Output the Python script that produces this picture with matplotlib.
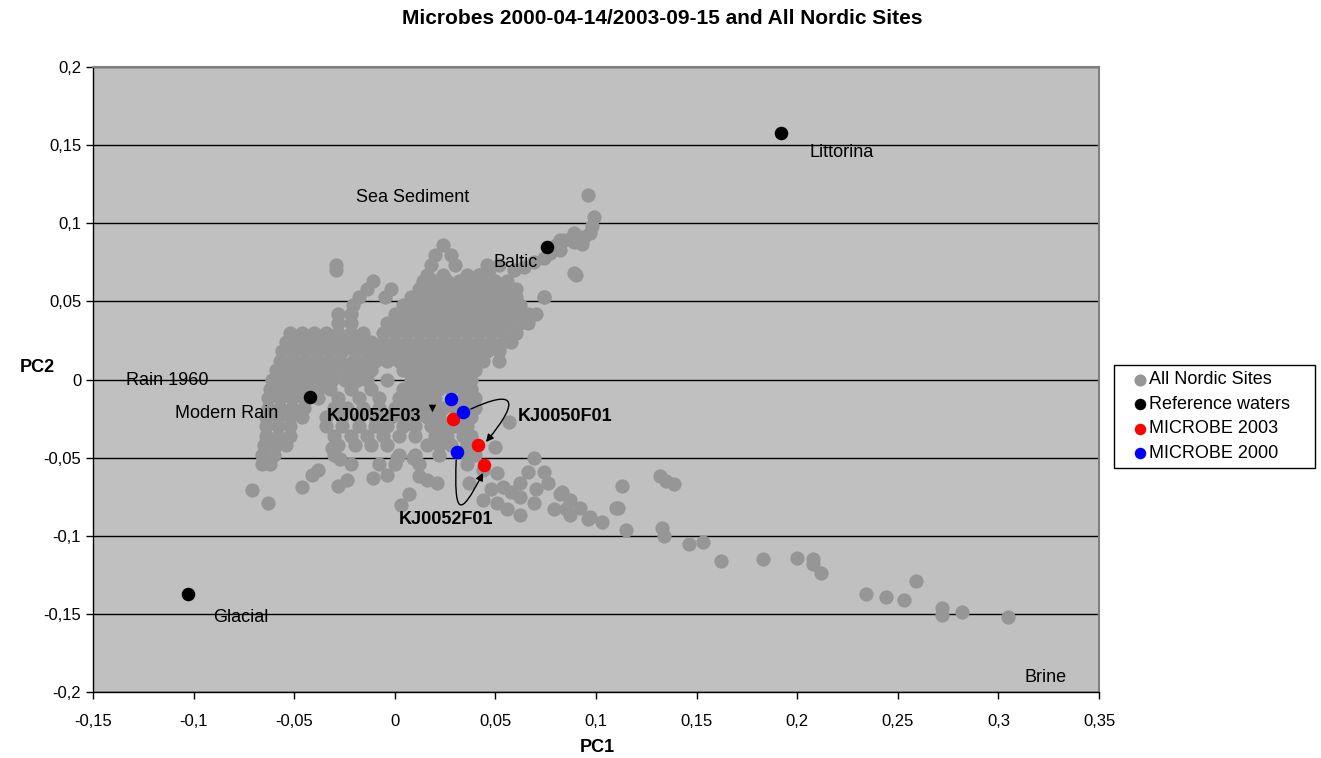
import numpy as np
import matplotlib
matplotlib.use("Agg")
import matplotlib.pyplot as plt
from matplotlib.path import Path
from matplotlib.patches import FancyArrowPatch

plt.rcParams['font.family'] = ['Liberation Sans', 'DejaVu Sans']

# ---- data (PC1, PC2) ----
# dense cloud, read row by row: (PC2, [PC1 values])
core_rows = [
    (0.086, [0.024]),
    (0.080, [0.020, 0.028]),
    (0.073, [-0.029, 0.018, 0.030, 0.046]),
    (0.070, [-0.029]),
    (0.067, [0.016, 0.024, 0.036, 0.042]),
    (0.063, [-0.011, 0.014, 0.020, 0.026, 0.032, 0.038, 0.044, 0.050, 0.056]),
    (0.058, [-0.014, -0.002, 0.012, 0.018, 0.024, 0.030, 0.036, 0.042, 0.048, 0.054, 0.060]),
    (0.053, [-0.018, -0.005, 0.008, 0.014, 0.020, 0.026, 0.032, 0.038, 0.044, 0.050, 0.056, 0.060, 0.074]),
    (0.048, [-0.021, 0.004, 0.010, 0.016, 0.022, 0.028, 0.034, 0.040, 0.046, 0.052, 0.058, 0.062]),
    (0.042, [-0.028, -0.022, 0.000, 0.006, 0.012, 0.018, 0.024, 0.030, 0.036, 0.042, 0.048, 0.054,
             0.060, 0.066, 0.070]),
    (0.036, [-0.028, -0.022, -0.004, 0.002, 0.008, 0.014, 0.020, 0.026, 0.032, 0.038, 0.044, 0.050,
             0.056, 0.062, 0.066]),
    (0.030, [-0.052, -0.046, -0.040, -0.034, -0.028, -0.022, -0.016, -0.006, 0.000, 0.006, 0.012,
             0.018, 0.024, 0.030, 0.036, 0.042, 0.048, 0.054, 0.060]),
    (0.024, [-0.054, -0.048, -0.042, -0.036, -0.030, -0.024, -0.018, -0.012, -0.006, 0.000, 0.006,
             0.012, 0.018, 0.024, 0.030, 0.036, 0.042, 0.048, 0.054, 0.058]),
    (0.018, [-0.056, -0.050, -0.044, -0.038, -0.032, -0.026, -0.020, -0.014, -0.008, -0.002, 0.004,
             0.010, 0.016, 0.022, 0.028, 0.034, 0.040, 0.046, 0.052]),
    (0.012, [-0.057, -0.051, -0.045, -0.039, -0.033, -0.027, -0.021, -0.015, -0.010, -0.004, 0.002,
             0.008, 0.014, 0.020, 0.026, 0.032, 0.038, 0.044, 0.052]),
    (0.006, [-0.059, -0.053, -0.047, -0.041, -0.035, -0.029, -0.023, -0.017, -0.012, 0.004, 0.010,
             0.016, 0.022, 0.028, 0.034, 0.040]),
    (0.000, [-0.061, -0.055, -0.049, -0.043, -0.037, -0.031, -0.025, -0.019, -0.014, -0.004, 0.008,
             0.014, 0.020, 0.026, 0.032, 0.038]),
    (-0.006, [-0.062, -0.056, -0.050, -0.044, -0.038, -0.032, -0.022, -0.012, 0.004, 0.010, 0.016,
              0.022, 0.028, 0.034, 0.038]),
    (-0.012, [-0.063, -0.057, -0.051, -0.045, -0.038, -0.028, -0.018, -0.008, 0.002, 0.008, 0.014,
              0.020, 0.034, 0.040]),
    (-0.018, [-0.063, -0.057, -0.051, -0.045, -0.030, -0.024, -0.016, -0.008, 0.000, 0.006, 0.012,
              0.018, 0.024, 0.030, 0.036, 0.040]),
    (-0.024, [-0.064, -0.058, -0.052, -0.046, -0.034, -0.026, -0.018, -0.010, -0.002, 0.004, 0.010,
              0.016, 0.022, 0.032, 0.038]),
    (-0.030, [-0.064, -0.058, -0.052, -0.034, -0.026, -0.018, -0.010, -0.004, 0.004, 0.010, 0.018,
              0.024, 0.030, 0.036]),
    (-0.036, [-0.064, -0.058, -0.052, -0.030, -0.022, -0.014, -0.006, 0.002, 0.010, 0.020, 0.026,
              0.034, 0.038]),
    (-0.042, [-0.065, -0.059, -0.054, -0.028, -0.020, -0.012, -0.004, 0.016, 0.022, 0.028, 0.036]),
    (-0.048, [-0.066, -0.060, -0.030, 0.002, 0.010, 0.022, 0.036, 0.040]),
    (-0.054, [-0.066, -0.062, -0.022, -0.008, 0.000, 0.012, 0.036]),
]

baltic_arm = [
    (0.042, 0.067), (0.047, 0.070), (0.052, 0.073), (0.059, 0.070), (0.064, 0.072),
    (0.069, 0.075), (0.074, 0.078), (0.077, 0.081), (0.080, 0.086), (0.082, 0.083),
    (0.082, 0.089), (0.084, 0.089), (0.087, 0.090), (0.089, 0.088), (0.089, 0.094),
    (0.092, 0.091), (0.093, 0.087), (0.094, 0.091), (0.097, 0.094), (0.098, 0.098),
    (0.099, 0.104), (0.096, 0.118), (0.090, 0.067), (0.089, 0.068), (0.074, 0.053),
]

lower_scatter = [
    (-0.031, -0.044), (-0.027, -0.051), (-0.024, -0.064), (-0.028, -0.068), (-0.038, -0.058),
    (-0.041, -0.061), (-0.046, -0.069), (-0.071, -0.071), (-0.063, -0.079), (-0.011, -0.063),
    (-0.004, -0.061), (0.001, -0.050), (0.009, -0.050), (0.012, -0.062), (0.007, -0.073),
    (0.003, -0.080), (0.016, -0.064), (0.021, -0.066), (0.037, -0.066),
    (0.057, -0.027), (0.050, -0.043), (0.069, -0.050), (0.044, -0.058), (0.051, -0.060),
    (0.054, -0.069), (0.062, -0.066), (0.066, -0.059), (0.074, -0.059), (0.076, -0.066),
    (0.082, -0.073), (0.087, -0.077), (0.092, -0.082), (0.097, -0.088), (0.103, -0.091),
    (0.110, -0.082), (0.062, -0.075), (0.069, -0.079), (0.044, -0.077), (0.051, -0.079),
    (0.056, -0.083), (0.062, -0.087), (0.079, -0.083), (0.085, -0.083), (0.083, -0.072),
    (0.087, -0.087), (0.096, -0.089), (0.070, -0.070), (0.058, -0.072), (0.048, -0.070),
]

brine_tail = [
    (0.113, -0.068), (0.111, -0.082), (0.115, -0.096), (0.132, -0.062), (0.135, -0.065),
    (0.139, -0.067), (0.133, -0.095), (0.134, -0.100), (0.146, -0.105), (0.153, -0.104),
    (0.162, -0.116), (0.183, -0.115), (0.200, -0.114), (0.208, -0.115), (0.208, -0.118),
    (0.212, -0.124), (0.234, -0.137), (0.244, -0.139), (0.253, -0.141), (0.259, -0.129),
    (0.272, -0.146), (0.272, -0.151), (0.282, -0.149), (0.305, -0.152),
]

ref_x = [0.192, 0.0757, -0.0423, -0.1028]
ref_y = [0.158, 0.0845, -0.0113, -0.1374]

m2003_x = [0.0288, 0.0413, 0.0443]
m2003_y = [-0.0253, -0.0419, -0.0547]

m2000_x = [0.0278, 0.0338, 0.0308]
m2000_y = [-0.0125, -0.0208, -0.0464]

site_labels = [
    ("Littorina", 0.2063, 0.1452),
    ("Sea Sediment", -0.0194, 0.1166),
    ("Baltic", 0.0489, 0.0748),
    ("Rain 1960", -0.1337, -0.0007),
    ("Modern Rain", -0.1093, -0.0218),
    ("Glacial", -0.0904, -0.1524),
    ("Brine", 0.3132, -0.1908),
]
kj_labels = [
    ("KJ0052F03", -0.0337, -0.0235),
    ("KJ0050F01", 0.0612, -0.0235),
    ("KJ0052F01", 0.0021, -0.0893),
]

xticks = [-0.15, -0.1, -0.05, 0, 0.05, 0.1, 0.15, 0.2, 0.25, 0.3, 0.35]
yticks = [-0.2, -0.15, -0.1, -0.05, 0, 0.05, 0.1, 0.15, 0.2]

# flatten the grey cloud
nordic_x = []
nordic_y = []
for yy, xs in core_rows:
    for xx in xs:
        nordic_x.append(xx)
        nordic_y.append(yy)
for pts in (baltic_arm, lower_scatter, brine_tail):
    for xx, yy in pts:
        nordic_x.append(xx)
        nordic_y.append(yy)

fig = plt.figure(figsize=(13.21, 7.58), dpi=100)
ax = fig.add_axes([93/1321, 1-692/758, (1099-93)/1321, (692-67)/758])
ax.set_facecolor('#C0C0C0')

ms = 105
ax.scatter(nordic_x, nordic_y, s=ms, color='#969696', linewidths=0, label='All Nordic Sites', zorder=3)
ax.scatter(ref_x, ref_y, s=95, color='black', linewidths=0, label='Reference waters', zorder=4)
ax.scatter(m2003_x, m2003_y, s=95, color='#FF0000', linewidths=0, label='MICROBE 2003', zorder=5)
ax.scatter(m2000_x, m2000_y, s=95, color='#0000FF', linewidths=0, label='MICROBE 2000', zorder=6)

ax.set_xlim(-0.15, 0.35)
ax.set_ylim(-0.2, 0.2)
ax.set_xticks(xticks)
ax.set_yticks(yticks)
fmt = lambda v: ('%g' % v).replace('.', ',')
ax.set_xticklabels([fmt(v) for v in xticks])
ax.set_yticklabels([fmt(v) for v in yticks])
ax.tick_params(direction='out', length=5, width=1, color='black', labelsize=12)
ax.tick_params(axis='x', pad=11)
ax.tick_params(axis='y', pad=3.5)
ax.yaxis.grid(True, color='black', linewidth=1)
ax.set_axisbelow(True)
for side in ('top', 'right'):
    ax.spines[side].set_color('#808080')
    ax.spines[side].set_linewidth(1.5)
for side in ('left', 'bottom'):
    ax.spines[side].set_color('black')
    ax.spines[side].set_linewidth(1)

for txt, xx, yy in site_labels:
    ax.text(xx, yy, txt, fontsize=13, ha='left', va='center', zorder=8)
for txt, xx, yy in kj_labels:
    ax.text(xx, yy, txt, fontsize=13, fontweight='bold', ha='left', va='center', zorder=8)

# small pointer by KJ0052F03
ax.scatter([0.0187], [-0.018], marker='v', s=30, color='black', linewidths=0, zorder=8)

# curved arrows
arrow_paths = [
    [(0.0378, -0.0189), (0.058, -0.007), (0.064, -0.011), (0.0453, -0.0400)],
    [(0.0305, -0.0515), (0.0295, -0.086), (0.032, -0.090), (0.0438, -0.0598)],
]
for verts in arrow_paths:
    p = Path(verts, [Path.MOVETO, Path.CURVE4, Path.CURVE4, Path.CURVE4])
    arr = FancyArrowPatch(path=p, arrowstyle='-|>', mutation_scale=11, color='black',
                          linewidth=1, zorder=7)
    ax.add_patch(arr)

fig.text(662/1321, 1-19/758, 'Microbes 2000-04-14/2003-09-15 and All Nordic Sites',
         fontsize=15, fontweight='bold', ha='center', va='center')
fig.text(37/1321, 1-368/758, 'PC2', fontsize=13, fontweight='bold', ha='center', va='center')
fig.text(597/1321, 1-748/758, 'PC1', fontsize=13, fontweight='bold', ha='center', va='center')

leg = fig.legend(loc='upper left',
                 bbox_to_anchor=(1114/1321, 1-470/758, 201/1321, 105/758), mode='expand',
                 fontsize=13, frameon=True, fancybox=False, framealpha=1, edgecolor='black',
                 borderpad=0.35, handletextpad=-0.6, handlelength=2.2, labelspacing=0.42,
                 borderaxespad=0, markerscale=0.85)
leg.get_frame().set_linewidth(1)

fig.savefig('out.png', dpi=100)
